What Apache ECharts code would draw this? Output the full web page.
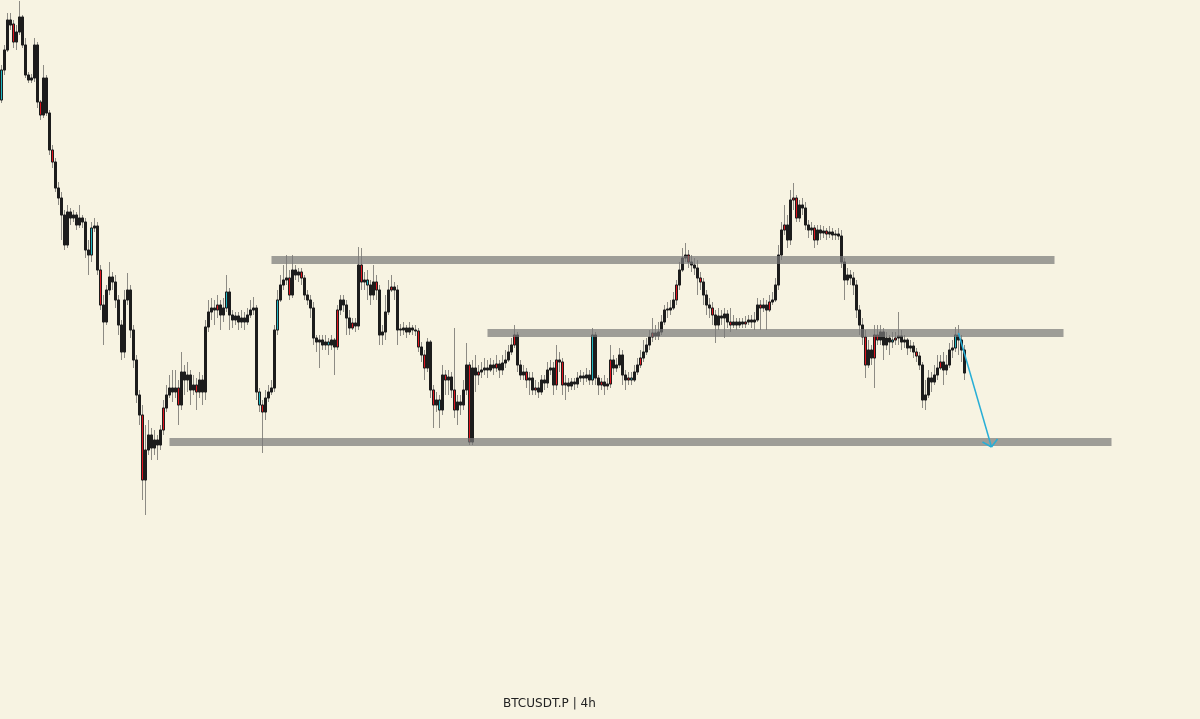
<!DOCTYPE html>
<html>
<head>
<meta charset="utf-8">
<title>BTCUSDT.P 4h</title>
<script src="https://cdn.jsdelivr.net/npm/echarts@6/dist/echarts.min.js"></script>
<style>
  html, body { margin: 0; padding: 0; background: #f7f3e2; }
  #chart { width: 1200px; height: 719px; }
</style>
</head>
<body>
<div id="chart"></div>
<script>
// candles: [open, close, low, high]
const candles = [
  [900,930,897,935],[930,950,925,955],[950,980,948,987],[980,975,970,987],[976,958,952,980],
  [958,968,950,975],[968,983,965,999],[983,955,952,985],[955,925,922,962],[925,920,917,928],
  [920,922,917,926],[922,955,918,962],[955,898,892,958],[898,885,880,900],[885,922,882,935],
  [922,887,884,925],[887,850,845,890],[850,838,832,855],[838,812,808,842],[812,802,795,818],
  [802,785,760,808],[785,755,750,790],[755,788,752,795],[788,782,775,792],[782,785,778,790],
  [785,775,770,788],[775,782,772,795],[782,778,772,785],[778,750,742,782],[750,745,725,760],
  [745,772,738,778],[772,774,768,782],[774,730,725,778],[730,695,690,735],[695,678,655,705],
  [678,710,675,715],[710,723,705,738],[723,718,710,728],[718,700,692,725],[700,675,665,705],
  [675,648,640,680],[648,700,642,710],[700,710,695,727],[710,670,662,715],[670,640,632,675],
  [640,605,597,645],[605,585,575,610],[585,520,500,595],[520,550,485,575],[550,565,545,580],
  [565,552,540,572],[552,560,545,570],[560,555,540,565],[555,570,550,575],[570,592,565,600],
  [592,605,588,615],[605,612,602,625],[612,608,598,630],[608,612,602,630],[612,595,575,620],
  [595,628,590,648],[628,620,605,635],[620,625,608,638],[625,610,595,630],[610,615,605,625],
  [615,608,590,622],[608,620,602,628],[620,608,595,625],[608,673,600,680],[673,688,668,700],
  [688,692,680,702],[692,690,675,700],[690,695,682,705],[695,685,670,700],[685,692,678,702],
  [692,708,688,725],[708,685,670,712],[685,680,672,690],[680,684,675,688],[684,678,670,688],
  [678,682,672,690],[682,678,670,688],[678,685,675,692],[685,690,682,700],[690,692,685,703],
  [692,608,600,695],[608,595,588,612],[595,588,547,600],[588,602,580,610],[602,608,598,615],
  [608,612,605,620],[612,670,608,675],[670,700,665,710],[700,715,698,725],[715,720,710,735],
  [720,722,715,745],[722,705,700,730],[705,730,702,745],[730,725,720,735],[725,728,718,732],
  [728,722,715,732],[722,705,700,725],[705,700,695,710],[700,692,682,705],[692,662,655,698],
  [662,658,648,665],[658,660,632,665],[660,655,650,665],[655,658,650,665],[658,655,645,662],
  [655,660,650,665],[660,653,625,662],[653,690,650,695],[690,700,685,705],[700,695,688,705],
  [695,682,665,700],[682,672,665,690],[672,677,670,682],[677,674,668,682],[674,735,670,753],
  [735,718,710,752],[718,720,710,728],[720,715,700,730],[715,705,695,720],[705,718,700,735],
  [718,710,700,725],[710,665,655,715],[665,668,655,675],[668,688,660,705],[688,710,685,720],
  [710,713,708,725],[713,710,700,718],[710,670,655,715],[670,671,664,676],[670,672,665,678],
  [672,668,662,675],[668,672,665,678],[672,670,665,675],[670,669,664,675],[669,653,648,672],
  [653,645,638,658],[645,632,620,650],[632,658,628,662],[658,610,602,660],[610,595,572,615],
  [595,600,588,608],[600,590,572,605],[590,625,585,635],[625,620,605,630],[620,623,605,630],
  [623,610,602,628],[610,590,582,672],[590,598,575,605],[598,595,585,605],[595,610,590,620],
  [610,635,605,657],[635,558,555,638],[558,632,555,640],[632,625,608,645],[625,628,615,635],
  [628,630,622,638],[630,632,625,642],[632,630,622,640],[630,635,628,642],[635,632,625,640],
  [632,636,628,645],[636,630,622,640],[630,637,625,645],[637,640,632,650],[640,648,638,655],
  [648,655,645,662],[655,665,652,675],[665,635,628,668],[635,625,620,640],[625,628,620,635],
  [628,620,612,632],[620,622,605,628],[622,610,605,628],[610,612,605,620],[612,608,602,618],
  [608,620,605,625],[620,617,610,625],[617,630,612,638],[630,632,625,640],[632,615,605,638],
  [615,640,610,655],[640,638,628,648],[638,615,605,642],[615,617,600,625],[617,614,608,622],
  [614,618,610,622],[618,616,610,622],[616,622,612,628],[622,624,618,630],[624,622,615,628],
  [622,625,618,632],[625,620,615,630],[620,665,615,672],[665,622,615,668],[622,615,605,625],
  [615,618,610,622],[618,614,605,625],[614,616,610,622],[616,640,612,655],[640,632,625,645],
  [632,635,628,642],[635,645,632,652],[645,625,615,650],[625,620,610,630],[620,622,615,628],
  [622,620,615,628],[620,628,618,635],[628,635,625,642],[635,642,632,650],[642,648,638,660],
  [648,655,645,662],[655,663,650,670],[663,667,658,682],[667,664,660,675],[664,668,660,678],
  [668,678,665,685],[678,690,675,695],[690,691,682,698],[690,692,685,700],[692,700,690,708],
  [700,715,695,720],[715,730,710,738],[730,742,728,752],[742,745,738,757],[745,738,732,750],
  [738,735,728,745],[735,732,725,742],[732,722,705,740],[722,718,710,728],[718,705,695,722],
  [705,695,685,710],[695,692,682,702],[692,685,675,698],[685,675,657,690],[675,684,670,692],
  [684,682,675,690],[682,686,662,692],[686,678,672,690],[678,675,668,692],[675,678,672,685],
  [678,675,670,682],[675,678,672,682],[678,676,672,682],[676,678,672,684],[678,680,675,685],
  [680,678,672,685],[678,680,670,688],[680,695,678,702],[695,692,670,700],[692,695,688,702],
  [695,690,670,700],[690,698,688,705],[698,700,695,708],[700,715,698,722],[715,745,710,755],
  [745,770,740,778],[770,775,765,795],[775,760,752,785],[760,800,755,810],[800,802,790,817],
  [802,782,778,805],[782,795,778,800],[795,792,785,802],[792,775,770,798],[775,770,762,780],
  [770,772,765,778],[772,760,752,775],[760,770,755,775],[770,767,760,775],[767,769,762,774],
  [769,766,760,772],[766,768,762,774],[768,765,760,772],[765,766,760,770],[766,764,760,772],
  [764,738,732,770],[738,720,700,742],[720,725,715,732],[725,722,715,730],[722,715,705,728],
  [715,690,682,720],[690,675,665,695],[675,663,655,682],[663,635,622,670],[635,650,632,660],
  [650,642,635,655],[642,665,612,675],[665,660,655,675],[660,668,655,675],[668,655,640,672],
  [655,662,650,668],[662,658,645,665],[658,660,652,668],[660,662,655,668],[662,664,655,688],
  [664,658,650,670],[658,660,652,665],[660,652,645,662],[652,654,648,660],[654,648,642,658],
  [648,644,638,652],[644,635,630,648],[635,600,592,638],[600,605,590,620],[605,622,602,630],
  [622,618,608,628],[618,625,615,635],[625,632,620,645],[632,638,630,645],[638,630,615,648],
  [630,635,625,645],[635,650,632,657],[650,652,642,660],[652,665,648,673],[665,660,645,675],
  [660,650,638,665],[650,627,620,655]
];

// candles whose body shows a red / teal streak in the picture
const redBars = [4, 13, 17, 33, 47, 54, 59, 65, 72, 87, 96, 100, 112, 117, 120, 125, 130, 139, 141, 144,
  148, 151, 156, 159, 165, 171, 175, 178, 185, 187, 200, 203, 209, 213, 217, 225, 229, 233, 237, 243,
  248, 253, 256, 261, 264, 265, 271, 275, 288, 291, 292, 298, 305, 313];
const tealBars = [0, 30, 75, 86, 92, 109, 122, 146, 197, 210, 297, 318];

// number of 4h slots across the visible window
const slotCount = 400;
const categories = Array.from({ length: slotCount }, (_, i) => String(i));

// horizontal levels: [fromBar, toBar, price]
const levels = [
  [90, 351, 740.5],
  [162, 354, 667.5],
  [56, 370, 558]
];

// projected move: [fromBar, fromPrice, toBar, toPrice]
const projection = [319, 667, 330, 553];
const arrowWings = [
  [327, 558],
  [332, 561]
];

const chart = echarts.init(document.getElementById('chart'))

const levelLines = levels.map(([a, b, p]) => [
  { coord: [a, p] },
  { coord: [b, p] }
])

const arrowLines = [
  [{ coord: [projection[0], projection[1]] }, { coord: [projection[2], projection[3]] }]
].concat(arrowWings.map(([b, p]) => [
  { coord: [b, p] },
  { coord: [projection[2], projection[3]] }
]))

const bodyBorder = '#1c1c1c'

const bodies = candles.map(([o, c], i) => {
  const item = { value: [o, c, Math.min(o, c), Math.max(o, c)] }
  let fill = null
  if (redBars.includes(i)) fill = '#e0141e'
  else if (tealBars.includes(i)) fill = '#1fb8c4'
  if (fill) {
    item.itemStyle = {
      color: fill,
      color0: fill,
      borderColor: bodyBorder,
      borderColor0: bodyBorder
    }
  }
  return item
})

const option = {
  backgroundColor: '#f7f3e2',
  animation: false,
  title: {
    text: 'BTCUSDT.P | 4h',
    left: 503,
    top: 698,
    padding: 0,
    textStyle: {
      fontFamily: 'DejaVu Sans',
      fontSize: 12,
      fontWeight: 'normal',
      color: '#222'
    }
  },
  grid: { left: 0, right: 0, top: 0, bottom: 0 },
  xAxis: {
    type: 'category',
    data: categories,
    show: false
  },
  yAxis: {
    type: 'value',
    min: 281,
    max: 1000,
    show: false
  },
  series: [
    {
      name: 'wicks',
      type: 'candlestick',
      z: 2,
      barWidth: 3,
      data: candles,
      itemStyle: {
        color: 'rgba(70,70,70,0.45)',
        color0: 'rgba(70,70,70,0.45)',
        borderColor: 'rgba(70,70,70,0.6)',
        borderColor0: 'rgba(70,70,70,0.6)',
        borderWidth: 1
      },
      markLine: {
        silent: true,
        symbol: 'none',
        label: { show: false },
        lineStyle: { color: 'rgba(120,120,120,0.7)', width: 8, type: 'solid' },
        data: levelLines
      }
    },
    {
      name: 'bodies',
      type: 'candlestick',
      z: 3,
      barWidth: 2,
      data: bodies,
      itemStyle: {
        color: bodyBorder,
        color0: bodyBorder,
        borderColor: bodyBorder,
        borderColor0: bodyBorder,
        borderWidth: 1
      },
      markLine: {
        silent: true,
        symbol: 'none',
        label: { show: false },
        lineStyle: { color: '#27aed6', width: 1.5, type: 'solid' },
        data: arrowLines
      }
    }
  ]
}

chart.setOption(option)
</script>
</body>
</html>
